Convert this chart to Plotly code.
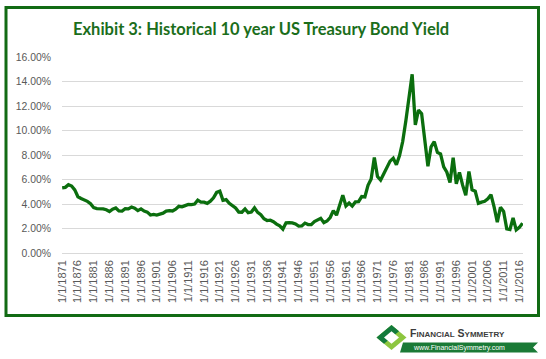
import plotly.graph_objects as go

# ---------------- data ----------------
years = list(range(1871, 2018))
yields = [
    5.32, 5.36, 5.58, 5.47, 5.15, 4.59, 4.45, 4.35, 4.22, 4.03,   # 1871-1880
    3.70, 3.62, 3.63, 3.60, 3.53, 3.39, 3.58, 3.68, 3.44, 3.42,   # 1881-1890
    3.62, 3.60, 3.75, 3.65, 3.46, 3.60, 3.42, 3.34, 3.10, 3.15,   # 1891-1900
    3.10, 3.18, 3.25, 3.42, 3.46, 3.43, 3.58, 3.81, 3.77, 3.87,   # 1901-1910
    3.97, 3.95, 4.00, 4.31, 4.15, 4.15, 4.05, 4.23, 4.50, 4.95,   # 1911-1920
    5.05, 4.30, 4.36, 4.06, 3.86, 3.68, 3.34, 3.33, 3.60, 3.29,   # 1921-1930
    3.34, 3.68, 3.31, 3.12, 2.79, 2.65, 2.68, 2.56, 2.36, 2.21,   # 1931-1940
    1.95, 2.46, 2.47, 2.46, 2.37, 2.19, 2.21, 2.44, 2.32, 2.32,   # 1941-1950
    2.57, 2.68, 2.83, 2.48, 2.61, 2.90, 3.46, 3.09, 4.02, 4.72,   # 1951-1960
    3.84, 4.08, 3.83, 4.17, 4.19, 4.61, 4.58, 5.53, 6.04, 7.79,   # 1961-1970
    6.24, 5.95, 6.46, 6.99, 7.50, 7.74, 7.21, 7.96, 9.10, 10.80,  # 1971-1980
    12.57, 14.59, 10.46, 11.67, 11.38, 9.19, 7.08, 8.67, 9.09, 8.21,  # 1981-1990
    8.09, 7.03, 6.60, 5.75, 7.78, 5.65, 6.58, 5.54, 4.72, 6.66,   # 1991-2000
    5.16, 5.04, 4.05, 4.15, 4.22, 4.42, 4.76, 3.74, 2.52, 3.73,   # 2001-2010
    3.39, 1.97, 1.91, 2.86, 1.88, 2.09, 2.43,                     # 2011-2017
]
categories = ["1/1/%d" % y for y in years]
tick_labels = categories[::5]
y_ticks = [0, 2, 4, 6, 8, 10, 12, 14, 16]
title_text = "Exhibit 3: Historical 10 year US Treasury Bond Yield"

# ---------------- layout helpers ----------------
W, H = 546, 359
L, R, T, B = 62, 23, 57, 106
pw, ph = W - L - R, H - T - B


def px(x):
    return (x - L) / pw


def py(y):
    return (H - B - y) / ph


GREEN_LINE = "#0b6e0e"
GREEN_TXT = "#1b6e1b"
GREEN_BORDER = "#126b14"

fig = go.Figure()
fig.add_trace(go.Scatter(
    x=categories, y=yields, mode="lines",
    line=dict(color=GREEN_LINE, width=3.3),
    hoverinfo="skip", showlegend=False,
))

fig.update_layout(
    width=W, height=H, autosize=False,
    margin=dict(l=L, r=R, t=T, b=B, autoexpand=False),
    paper_bgcolor="white", plot_bgcolor="white",
    font=dict(family="Liberation Sans, Arial, sans-serif", color="#595959"),
    showlegend=False,
)
fig.update_xaxes(
    type="category", range=[-0.05, len(years) - 0.85], automargin=False,
    tickmode="array", tickvals=tick_labels, ticktext=tick_labels,
    tickangle=-90, tickfont=dict(size=11, color="#595959"),
    showgrid=False, showline=False, zeroline=False, ticks="",
    ticklabelstandoff=4,
)
fig.update_yaxes(
    range=[0, 16], tickmode="array", tickvals=y_ticks, automargin=False,
    ticktext=["%.2f%%" % v for v in y_ticks],
    tickfont=dict(size=10.4, color="#595959"),
    showgrid=True, gridcolor="#d9d9d9", gridwidth=1,
    zeroline=True, zerolinecolor="#d9d9d9", zerolinewidth=1,
    showline=False, ticks="", ticklabelstandoff=10,
)

# Title
fig.add_annotation(
    x=px(261), y=py(29), xref="paper", yref="paper",
    text="<b>%s</b>" % title_text, showarrow=False,
    font=dict(family="Lato, Open Sans, sans-serif", size=16.5, color=GREEN_TXT),
    xanchor="center", yanchor="middle",
)

shapes = []
# Green border around the chart
shapes.append(dict(type="rect", xref="paper", yref="paper",
                   x0=px(6), x1=px(538.5), y0=py(7.5), y1=py(315.5),
                   line=dict(color=GREEN_BORDER, width=3), fillcolor="rgba(0,0,0,0)",
                   layer="above"))


def poly(points, color):
    d = "M " + " L ".join("%f,%f" % (px(a), py(b)) for a, b in points) + " Z"
    return dict(type="path", xref="paper", yref="paper", path=d,
                fillcolor=color, line=dict(width=0), layer="above")


# Logo diamond
cx, cy, hw, hh = 391.5, 337.5, 15, 12.5
shapes.append(poly([(cx - hw, cy), (cx, cy - hh), (cx + hw, cy), (cx, cy + hh)], "#8dc63f"))
shapes.append(poly([(cx - hw, cy), (cx, cy - hh), (cx + hw * 0.5, cy - hh * 0.5),
                    (cx, cy), (cx - hw * 0.5, cy + hh * 0.5)], "#137a3c"))
shapes.append(poly([(cx - 7.5, cy), (cx, cy - 6.2), (cx + 7.5, cy), (cx, cy + 6.2)], "white"))
# Logo banner
shapes.append(poly([(403, 342.5), (538, 342.5), (533, 347.5), (538, 352.5), (400, 352.5)], "#1a7a36"))
fig.update_layout(shapes=shapes)

fig.add_annotation(
    x=px(408), y=py(333), xref="paper", yref="paper", showarrow=False,
    xanchor="left", yanchor="middle",
    text="<b>F<span style='font-size:8px'>INANCIAL</span> S<span style='font-size:8px'>YMMETRY</span></b>",
    font=dict(family="Liberation Sans, Arial, sans-serif", size=10.5, color="#3c3c3c"),
)
fig.add_annotation(
    x=px(411), y=py(347.5), xref="paper", yref="paper", showarrow=False,
    xanchor="left", yanchor="middle",
    text="www.FinancialSymmetry.com",
    font=dict(family="Liberation Sans, Arial, sans-serif", size=7, color="white"),
)

fig.write_html("out.html",
               config={"displayModeBar": False, "staticPlot": True},
               post_script="document.body.style.margin='0';document.body.style.overflow='hidden';")
